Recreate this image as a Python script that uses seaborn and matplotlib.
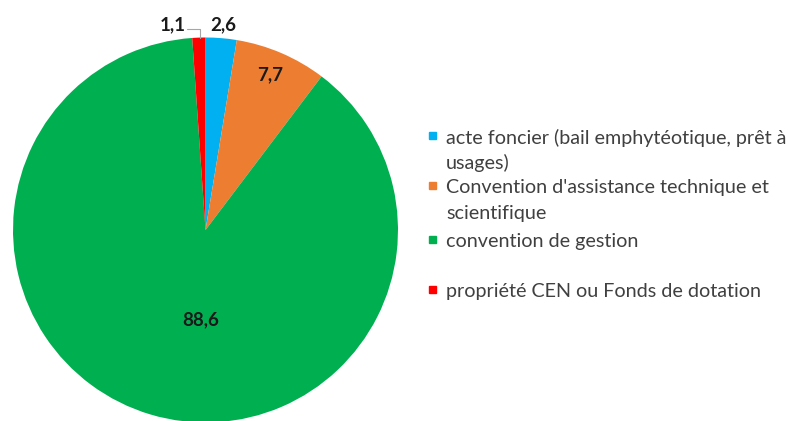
import matplotlib
matplotlib.use("Agg")
import matplotlib.pyplot as plt
import seaborn as sns
from matplotlib.patches import Rectangle

# données
categories = [
    "acte foncier (bail emphytéotique, prêt à\nusages)",
    "Convention d'assistance technique et\nscientifique",
    "convention de gestion",
    "propriété CEN ou Fonds de dotation",
]
values = [2.6, 7.7, 88.6, 1.1]
value_labels = ["2,6", "7,7", "88,6", "1,1"]
colors = ["#00B0F0", "#ED7D31", "#00B050", "#FF0000"]

sns.set_theme(style="white")
plt.rcParams['font.family'] = ['Lato', 'DejaVu Sans']

W, H = 789, 421
fig = plt.figure(figsize=(W / 100, H / 100), dpi=100)

# centre du camembert (pixels) et rayon
cx, cy, R = 205.5, 230, 192.5
ax = fig.add_axes([(cx - R) / W, (H - cy - R) / H, 2 * R / W, 2 * R / H])
wedges, _ = ax.pie(values, colors=colors, startangle=90, counterclock=False,
                   wedgeprops=dict(linewidth=0))
ax.set_xlim(-1, 1)
ax.set_ylim(-1, 1)
ax.set_aspect("auto")
ax.axis("off")

# position des étiquettes (coordonnées du camembert)
label_pos = [(0.093, 1.068), (0.335, 0.805), (-0.023, -0.468), (-0.171, 1.068)]
for (x, y), txt in zip(label_pos, value_labels):
    ax.text(x, y, txt, ha="center", va="center", fontsize=13.5, fontweight="bold",
            color="#1a1a1a", clip_on=False)

# ligne de rappel pour 1,1
ax.plot([-0.095, -0.031, -0.031], [1.044, 1.044, 0.995], color="#a6a6a6",
        lw=0.8, clip_on=False)


# légende dessinée à la main
def fx(px):
    return px / W


def fy(py):
    return 1 - py / H


row_y = [138, 188, 242, 292]
line_gap = 25
for lab, col, y0 in zip(categories, colors, row_y):
    fig.patches.append(Rectangle((fx(429), fy(y0 + 1)), 7 / W, 7 / H,
                                 transform=fig.transFigure, color=col))
    for i, line in enumerate(lab.split("\n")):
        fig.text(fx(446), fy(y0 + i * line_gap), line, ha="left", va="center",
                 fontsize=14.2, color="#404040")

fig.savefig("out.png", dpi=100)
